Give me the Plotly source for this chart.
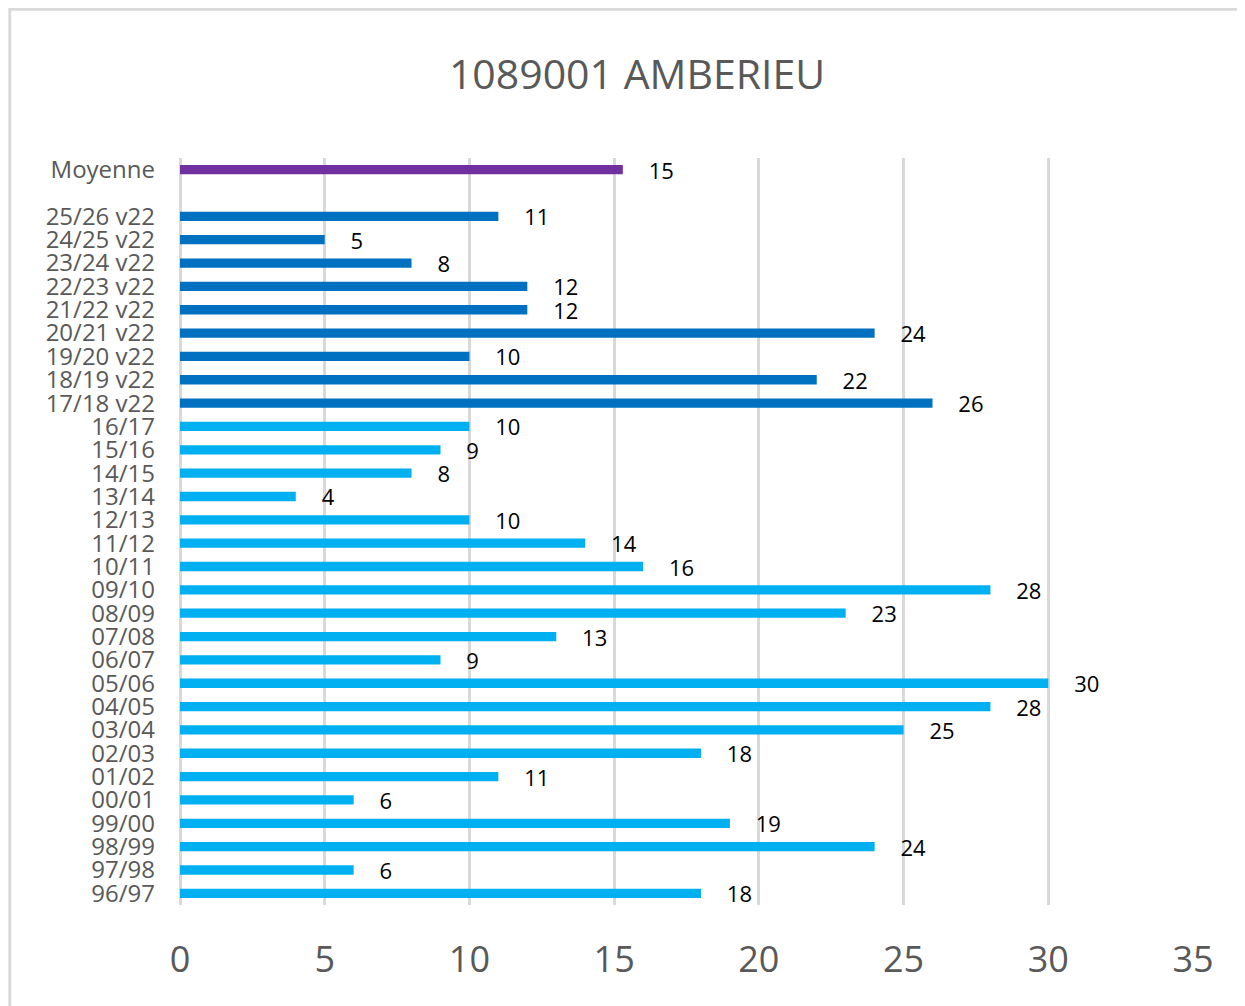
import plotly.graph_objects as go

# seasons, bottom to top
seasons_old = ["96/97", "97/98", "98/99", "99/00", "00/01", "01/02", "02/03",
               "03/04", "04/05", "05/06", "06/07", "07/08", "08/09", "09/10",
               "10/11", "11/12", "12/13", "13/14", "14/15", "15/16", "16/17"]
values_old = [18, 6, 24, 19, 6, 11, 18, 25, 28, 30, 9, 13, 23, 28,
              16, 14, 10, 4, 8, 9, 10]

seasons_v22 = ["17/18 v22", "18/19 v22", "19/20 v22", "20/21 v22", "21/22 v22",
               "22/23 v22", "23/24 v22", "24/25 v22", "25/26 v22"]
values_v22 = [26, 22, 10, 24, 12, 12, 8, 5, 11]

moyenne_label = "Moyenne"
moyenne_value = 15.3

x_ticks = [0, 5, 10, 15, 20, 25, 30, 35]

COLORS = {
    "old": "#00B0F0",
    "v22": "#0070C0",
    "moyenne": "#7030A0",
    "grid": "#D9D9D9",
    "text": "#595959",
}

GAP = " "  # empty row between the seasons and the average
categories = seasons_old + seasons_v22 + [GAP, moyenne_label]

PAD = "\u00a0" * 4  # push the value labels away from the bar end


def label(v):
    return PAD + str(round(v))


fig = go.Figure()
fig.add_trace(go.Bar(
    y=seasons_old, x=values_old, orientation="h",
    marker_color=COLORS["old"],
    text=[label(v) for v in values_old],
))
fig.add_trace(go.Bar(
    y=seasons_v22, x=values_v22, orientation="h",
    marker_color=COLORS["v22"],
    text=[label(v) for v in values_v22],
))
fig.add_trace(go.Bar(
    y=[GAP], x=[None], orientation="h", hoverinfo="skip",
))
fig.add_trace(go.Bar(
    y=[moyenne_label], x=[moyenne_value], orientation="h",
    marker_color=COLORS["moyenne"],
    text=[label(moyenne_value)],
))

fig.update_traces(
    textposition="outside",
    constraintext="none",
    textfont=dict(family="Open Sans", size=22, color="#000000"),
    cliponaxis=False,
    marker_line_width=0,
)

fig.update_layout(
    width=1237, height=998,
    margin=dict(l=172, r=52, t=150, b=101),
    barmode="overlay",
    bargap=0.6,
    showlegend=False,
    plot_bgcolor="white",
    paper_bgcolor="white",
    font=dict(family="Open Sans", color=COLORS["text"]),
    title=dict(
        text="1089001 AMBERIEU",
        x=0.5085, xref="container", xanchor="center",
        y=0.933, yref="container", yanchor="middle",
        font=dict(size=41, color=COLORS["text"]),
    ),
    xaxis=dict(
        range=[0, 35],
        tickvals=x_ticks,
        showgrid=True, gridcolor=COLORS["grid"], gridwidth=3,
        zeroline=True, zerolinecolor=COLORS["grid"], zerolinewidth=3,
        showline=False,
        tickfont=dict(size=36, color=COLORS["text"]),
        ticklabelstandoff=30,
    ),
    yaxis=dict(
        type="category",
        categoryorder="array", categoryarray=categories,
        tickmode="array", tickvals=categories, ticktext=categories,
        range=[-0.5, len(categories) - 0.5],
        showgrid=False, showline=False, zeroline=False,
        tickfont=dict(size=24, color=COLORS["text"]),
        ticklabelstandoff=24,
    ),
    # light grey frame round the chart area
    shapes=[dict(
        type="rect", xref="paper", yref="paper",
        x0=-0.168, x1=1.08, y0=-0.2, y1=1.199,
        line=dict(color=COLORS["grid"], width=3),
        fillcolor="rgba(0,0,0,0)", layer="below",
    )],
)

fig.write_html("out.html")
